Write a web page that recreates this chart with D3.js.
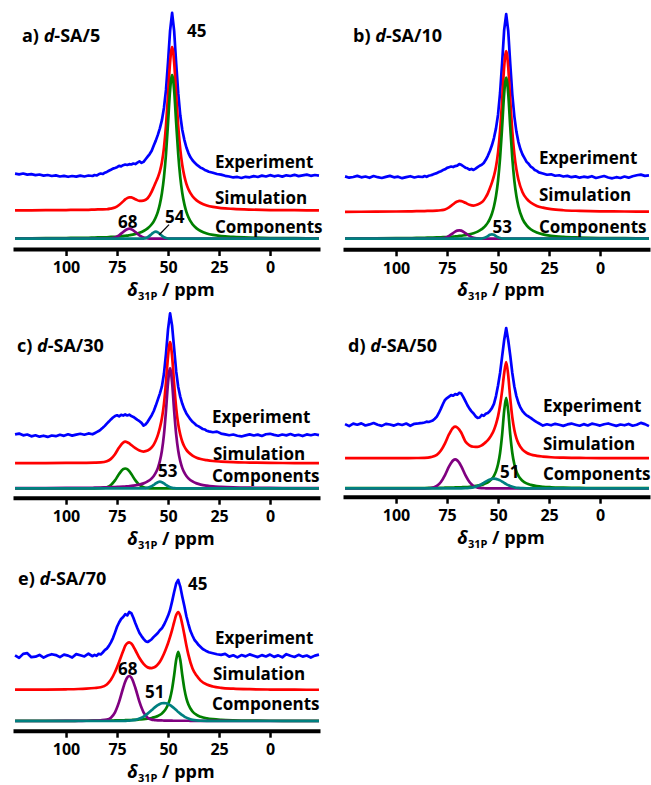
<!DOCTYPE html>
<html><head><meta charset="utf-8">
<script src="https://cdn.jsdelivr.net/npm/d3@7"></script>
<style>
body{margin:0;background:#fff}
svg{display:block}
text{font-family:'Open Sans',sans-serif;font-weight:700;fill:#000}
</style>
</head><body>
<svg id="chart" width="651" height="785"></svg>
<script>
// ---------------- DATA ----------------
const tickValues = [100, 75, 50, 25, 0];
const seriesNames = ['Experiment', 'Simulation', 'Components'];
const panelLetters = ['a)', 'b)', 'c)', 'd)', 'e)'];
const panelSamples = ['-SA/5', '-SA/10', '-SA/30', '-SA/50', '-SA/70'];

// chemical shift grid of the smooth (fitted) curves, ppm
const ppmSmooth = [125,110,100,94,90,86,83,80,78,76,74,72,71,70,69,68,66,64,62,60,
  58,57,56,55,54,53,52,51,50,49,48,47,46,45,44,43,42,41,40,38,36,34,31,28,24,18,10,0,-12,-24];
// chemical shift grid of the experimental spectra, ppm
const ppmExp = [125,123,121,119,117,115,113,111,109,107,105,103,101,99,97,95,93,91,89,87,
  86,85,84,83,82,81,80,79,78,77,76,75,74,73,72,71,70,69,68,67,66,65,64,63,62,61,60,59,58,57,
  56,55,54,53,52,51,50,49,48,47,46,45,44,43,42,41,40,39,38,37,36,35,34,33,32,31,30,
  28,26,24,22,20,18,16,14,12,10,8,6,4,2,0,-2,-4,-6,-8,-10,-12,-14,-16,-18,-20,-22,-24];

// ---- a) d-SA/5 ----
const aExp = [0.8,0.4,0.9,0.2,0.5,-0.1,0.3,-0.4,0.0,-0.6,-0.2,-0.9,-0.5,-1.1,-0.6,-1.0,-0.4,-0.9,-0.3,-0.6,
  0.0,-0.3,0.4,0.9,0.6,1.4,1.9,2.6,3.2,3.9, 4.3,4.8,5.6,5.3,6.0,6.4,6.1,6.6,6.4,7.0,
  6.7,7.6,8.3,7.4,8.0,9.6,11.2,12.8,14.8,18.0, 21.0,24.5,28.5,33.5,41.0,52.0,69.0,88.0,99.0,88.0,
  68.0,50.0,36.5,27.5,21.5,16.8,13.4,10.8,9.0,7.6, 6.3,5.4,4.4,3.9,3.1,2.6,2.0,
  1.4,0.6,0.2,-0.5,-0.9,-1.5,-1.2,-1.8,-1.1,-1.4,-0.7,-1.2,-0.4,-0.9,-0.1,-0.8,-0.3,-1.0,-0.2,-0.6,0.1,-0.7,-0.2,0.2,-0.5,0.0,-0.4];
const aSim = [0.2,0.3,0.4,0.5,0.5,0.7,0.8,0.9, 1.3,1.9,3.5,5.7, 6.9,7.7,8.2,8.1, 7.0,6.0,6.2,7.6,
  11.7,14.5,17.4,20.3,24.0,29.6,38.4,52.0,70.7,90.6,100,90.6,70.6,51.6,37.5,27.8,21.1,16.4,13.1,
  8.8,6.3,4.7,3.2,2.3,1.6,1.1,0.7,0.4,0.3,0.2];
const aGreen = [0.2,0.3,0.4,0.5,0.5,0.7,0.8,0.9, 1.1,1.2,1.4,1.6, 1.8,1.9,2.1,2.3, 2.9,3.6,4.7,6.3,
  8.8,10.6,13.1,16.4,21.1,27.8,37.5,51.6,70.6,90.6,100,90.6,70.6,51.6,37.5,27.8,21.1,16.4,13.1,
  8.8,6.3,4.7,3.2,2.3,1.6,1.1,0.7,0.4,0.3,0.2];
const aPurple = [0,0,0,0,0,0,0,0, 0.2,0.7,2.1,4.1, 5.1,5.8,6.1,5.8, 4.1,2.1,0.7,0.2,
  0,0,0,0,0,0,0,0,0,0,0,0,0,0,0,0,0,0,0, 0,0,0,0,0,0,0,0,0,0,0];
const aTeal = [0,0,0,0,0,0,0,0, 0,0,0,0, 0,0,0,0, 0,0,0.1,0.9,
  2.9,3.9,4.3,3.9,2.9,1.8,0.9,0.4,0.1,0,0,0,0,0,0,0,0,0,0, 0,0,0,0,0,0,0,0,0,0,0];
const aPeaks = ['45', '68', '54'];

// ---- b) d-SA/10 ----
const bExp = [0.2,-0.6,-0.2,0.5,-0.4,0.1,-0.7,0.4,-0.3,-0.8,-0.1,0.5,-0.4,0.0,-0.9,-0.3,0.3,-0.5,0.1,-0.2,
  0.4,-0.1,0.6,0.9,1.3,1.8,2.2,2.9,3.4,4.1, 4.6,5.5,5.9,6.3,6.0,6.6,6.9,7.8,7.4,6.5,
  5.6,5.2,4.4,4.8,4.2,5.0,5.9,6.8,7.4,8.5, 10.5,13.0,16.0,19.5,24.0,30.0,38.5,52.0,70.5,91.0,
  101.0,90.5,70.0,51.0,37.5,28.0,21.5,17.0,13.8,11.5, 9.2,8.0,6.3,5.5,4.2,3.6,2.7,
  2.0,1.2,1.5,0.6,0.9,0.1,0.5,-0.3,0.2,-0.6,0.0,-0.4,0.3,-0.8,-0.2,0.4,-0.5,-1.0,-0.3,-0.8,0.1,-0.6,0.3,0.9,1.3,0.5,0.8];
const bSim = [0.1,0.2,0.3,0.4,0.5,0.6,0.7,0.8, 1.1,1.6,2.9,4.8, 5.8,6.5,6.9,6.8, 5.7,4.5,4.0,4.6,
  6.0,7.3,9.2,11.6,14.7,18.2,22.4,28.1,36.9,50.4,69.3,90.0,100,90.0,69.2,50.0,36.0,26.5,20.0,
  12.3,8.3,5.9,3.8,2.7,1.8,1.1,0.7,0.4,0.3,0.2];
const bGreen = [0.1,0.2,0.3,0.4,0.5,0.6,0.7,0.8, 0.9,1.0,1.1,1.3, 1.4,1.5,1.7,1.8, 2.2,2.7,3.4,4.4,
  5.9,6.9,8.3,10.0,12.3,15.5,20.0,26.5,36.0,50.0,69.2,90.0,100,90.0,69.2,50.0,36.0,26.5,20.0,
  12.3,8.3,5.9,3.8,2.7,1.8,1.1,0.7,0.4,0.3,0.2];
const bPurple = [0,0,0,0,0,0,0,0, 0.2,0.6,1.8,3.5, 4.4,5.0,5.2,5.0, 3.5,1.8,0.6,0.2,
  0,0,0,0,0,0,0,0,0,0,0,0,0,0,0,0,0,0,0, 0,0,0,0,0,0,0,0,0,0,0];
const bTeal = [0,0,0,0,0,0,0,0, 0,0,0,0, 0,0,0,0, 0,0,0,0,
  0.1,0.4,0.9,1.6,2.4,2.7,2.4,1.6,0.9,0.4,0.1,0,0,0,0,0,0,0,0, 0,0,0,0,0,0,0,0,0,0,0];
const bPeaks = ['53'];

// ---- c) d-SA/30 ----
const cExp = [0.5,1.2,-0.3,0.4,-1.1,-0.2,-1.4,-0.6,-1.6,-0.4,-1.0,0.2,-0.7,0.6,-0.5,0.3,1.0,0.2,1.3,0.6,
  1.5,2.4,3.3,4.5,6.0,7.6,9.5,11.2,13.0,14.6, 15.8,16.4,15.6,16.8,16.2,17.1,16.3,16.9,15.8,15.1,
  13.9,12.6,11.5,10.1,7.8,8.9,11.0,13.8,16.5,20.0, 24.5,29.5,34.5,40.5,51.0,67.5,88.0,101.4,91.0,72.0,
  53.0,40.0,32.0,26.0,21.5,18.0,15.5,13.0,11.0,9.6, 8.0,7.2,6.1,5.0,4.6,3.5,3.0,
  2.3,2.8,1.2,0.5,-0.2,0.4,-0.6,-1.2,-0.3,0.5,-0.4,0.3,-0.8,0.6,1.0,0.1,-0.6,0.4,-0.3,0.8,-0.5,0.2,-0.9,0.5,-0.2,0.6,-0.1];
const cSim = [0.1,0.2,0.3,0.4,0.4,0.5,0.7,1.7, 3.7,7.6,13.1,17.3, 18.0,17.6,16.6,15.2, 12.6,10.6,9.8,10.6,
  13.2,15.6,19.0,23.5,29.5,37.5,49.5,67.5,89.0,101,89.0,66.0,46.0,32.5,24.0,18.0,14.0,11.2,9.2,
  6.4,4.7,3.6,2.6,1.9,1.4,0.9,0.6,0.3,0.2,0.1];
const cGreen = [0,0,0,0,0,0,0.1,0.9, 2.8,6.6,11.9,15.9, 16.5,15.9,14.3,11.9, 6.6,2.8,0.9,0.2,
  0,0,0,0,0,0,0,0,0,0,0,0,0,0,0,0,0,0,0, 0,0,0,0,0,0,0,0,0,0,0];
const cPurple = [0.1,0.2,0.3,0.4,0.4,0.5,0.6,0.8, 0.9,1.0,1.2,1.4, 1.5,1.6,1.8,2.0, 2.5,3.1,4.1,5.7,
  8.3,10.2,13.0,16.8,22.6,31.3,44.7,64.6,87.9,100,87.9,64.6,44.7,31.3,22.6,16.8,13.0,10.2,8.3,
  5.7,4.1,3.1,2.2,1.6,1.2,0.8,0.5,0.3,0.2,0.1];
const cTeal = [0,0,0,0,0,0,0,0, 0,0,0,0, 0,0,0,0, 0,0,0,0.4,
  1.7,2.8,4.1,5.1,5.5,5.1,4.1,2.8,1.7,0.9,0.4,0.1,0,0,0,0,0,0,0, 0,0,0,0,0,0,0,0,0,0,0];
const cPeaks = ['53'];

// ---- d) d-SA/50 ----
const dExp = [0.9,-1.2,1.4,0.3,1.7,-0.5,0.6,2.0,0.2,-0.9,1.2,0.5,-0.6,1.1,0.0,1.5,-0.8,1.2,1.6,2.2,
  2.6,3.5,3.1,3.8,4.6,6.5,8.7,12.5,17.0,21.8, 26.0,28.0,29.5,31.0,30.4,32.0,31.5,33.4,32.6,29.0,
  24.8,20.5,17.0,14.2,12.0,9.0,7.4,7.8,10.4,9.5, 11.6,12.5,14.5,17.5,22.0,30.0,41.0,54.0,71.0,88.0,
  100.7,88.0,72.0,54.0,40.0,30.0,23.0,18.0,14.5,12.0, 10.0,8.8,7.4,5.8,4.4,3.0,1.8,
  -0.6,0.8,-0.3,1.2,0.2,-0.9,0.6,1.5,0.3,-0.8,0.9,-0.5,1.4,0.5,-0.6,0.8,1.6,0.3,-0.9,0.5,-0.3,1.1,-0.8,0.2,2.2,0.9,-1.2];
const dSim = [0.1,0.1,0.2,0.2,0.3,0.5,1.2,3.5, 8.0,15.5,25.0,31.8, 32.8,32.0,29.8,26.5, 17.5,13.5,12.0,11.8,
  13.5,15.0,16.8,18.8,21.5,25.0,29.5,35.5,43.5,55.0,70.0,88.0,100,86.0,62.0,42.5,29.5,21.0,15.5,
  9.0,5.8,4.0,2.6,1.8,1.1,0.7,0.4,0.2,0.2,0.1];
const dGreen = [0.1,0.1,0.2,0.2,0.3,0.3,0.4,0.5, 0.5,0.6,0.7,0.8, 0.9,0.9,1.0,1.1, 1.3,1.6,2.1,2.7,
  3.6,4.3,5.1,6.2,7.8,9.9,13.0,17.6,24.9,36.7,55.5,80.1,94,80.1,55.5,36.7,24.9,17.6,13.0,
  7.8,5.1,3.6,2.3,1.6,1.1,0.7,0.4,0.2,0.2,0.1];
const dPurple = [0,0,0,0,0,0,0.3,2.4, 6.5,13.7,22.7,29.0, 30.0,29.0,26.5,22.7, 13.7,6.5,2.4,0.7,
  0.2,0.1,0,0,0,0,0,0,0,0,0,0,0,0,0,0,0,0,0, 0,0,0,0,0,0,0,0,0,0,0];
const dTeal = [0,0,0,0,0,0,0,0, 0,0,0,0, 0,0,0,0, 0.1,0.4,1.0,2.3,
  4.4,5.7,7.0,8.2,9.1,9.8,10,9.8,9.1,8.2,7.0,5.7,4.4,3.3,2.3,1.6,1.0,0.6,0.4, 0.1,0,0,0,0,0,0,0,0,0,0];
const dPeaks = ['51'];

// ---- e) d-SA/70 ----
const eExp = [0.8,-2.4,2.7,3.6,-1.5,-0.9,1.4,-2.1,0.6,2.3,1.2,-1.4,1.7,0.5,-2.0,2.4,0.9,-0.6,2.9,-0.3,
  1.4,0.3,2.8,2.0,4.5,7.5,9.5,13.0,17.5,23.0, 30.0,37.5,43.0,47.5,50.0,53.5,52.0,56.4,55.0,49.0,
  42.0,35.5,29.5,25.5,22.0,19.0,18.0,19.5,21.5,24.5, 27.0,29.5,33.0,35.5,40.0,45.5,51.5,59.0,70.0,82.0,
  93.0,97.4,89.0,76.0,64.0,51.0,41.0,32.0,26.0,20.5, 17.5,14.0,11.5,9.0,7.5,6.0,4.8,
  3.5,2.2,1.5,2.7,-0.8,0.9,-1.8,1.2,-0.5,2.1,0.3,-1.4,1.1,-0.6,1.8,-1.1,0.8,-1.7,2.4,0.3,-1.2,1.5,-0.8,0.6,-2.0,0.5,1.8];
const eSim = [0.4,0.6,0.9,1.3,1.8,2.6,3.5,7.0, 13.0,23.0,36.0,50.0, 56.5,60.0,61.0,59.5, 51.0,41.0,33.5,29.0,
  28.0,28.8,30.3,32.8,36.3,41.0,46.5,53.0,60.0,68.0,77.0,87.0,96.0,100,95.0,84.0,71.0,57.0,45.0,
  27.5,18.5,12.0,7.0,4.5,2.8,1.7,1.0,0.6,0.4,0.3];
const eGreen = [0.1,0.2,0.2,0.3,0.3,0.4,0.5,0.6, 0.6,0.7,0.8,0.9, 1.0,1.1,1.2,1.3, 1.5,1.9,2.3,3.0,
  3.9,4.6,5.4,6.4,7.8,9.7,12.2,15.8,21.1,29.1,41.2,58.6,78.5,88.5,78.5,58.6,41.2,29.1,21.1,
  12.2,7.8,5.4,3.4,2.3,1.5,0.9,0.6,0.3,0.2,0.15];
const ePurple = [0,0,0.1,0.2,0.3,0.5,0.9,1.8, 4.3,11.2,24.5,42.3, 50.2,55.7,57.7,55.7, 42.3,24.5,11.2,4.3,
  1.8,1.4,1.1,0.9,0.8,0.7,0.6,0.5,0.5,0.4,0.4,0.3,0.3,0.3,0.3,0.3,0.3,0.3,0.3,
  0.2,0.2,0.2,0.1,0.1,0.1,0,0,0,0,0];
const eTeal = [0,0,0,0,0,0,0,0, 0,0,0,0.1, 0.2,0.3,0.45,0.7, 1.5,3.1,5.7,9.5,
  14.0,16.3,18.4,20.3,21.8,22.7,23,22.7,21.8,20.3,18.4,16.3,14.0,11.6,9.5,7.5,5.7,4.3,3.1,
  1.5,0.7,0.3,0.05,0,0,0,0,0,0,0];
const ePeaks = ['45', '68', '51'];

// ---------------- LAYOUT / STYLE ----------------
const colors = {exp:'#0000ff', sim:'#ff0000', green:'#008000', purple:'#800080', teal:'#008080'};
const lineWidth = 2.7;
const panels = [
  {exp:aExp, sim:aSim, comps:[aGreen,aPurple,aTeal], peaks:aPeaks,
   x0:0, axisY:249, base:{comp:238.7, sim:210.7, exp:175}, k:1.637,
   title:[22,42], lab:[[215,168],[215,204],[215,233]], peakPos:[[187,37],[118,228],[165,223]],
   arrow:[[49.5,8.6],[54.3,2.4]]},
  {exp:bExp, sim:bSim, comps:[bGreen,bPurple,bTeal], peaks:bPeaks,
   x0:330, axisY:249.3, base:{comp:238.7, sim:212, exp:176.7}, k:1.61,
   title:[353,42], lab:[[539,163.5],[539,201],[539,233]], peakPos:[[492.5,233]]},
  {exp:cExp, sim:cSim, comps:[cGreen,cPurple,cTeal], peaks:cPeaks,
   x0:0, axisY:497.7, base:{comp:488.3, sim:463.3, exp:435}, k:1.2,
   title:[17,351.5], lab:[[212,423],[213,460],[212,481.5]], peakPos:[[158,476.5]]},
  {exp:dExp, sim:dSim, comps:[dGreen,dPurple,dTeal], peaks:dPeaks,
   x0:330, axisY:496.7, base:{comp:488.3, sim:458.3, exp:425}, k:0.963,
   title:[348,351.5], lab:[[543,411.5],[543,450],[543,480]], peakPos:[[500,478]]},
  {exp:eExp, sim:eSim, comps:[eGreen,ePurple,eTeal], peaks:ePeaks,
   x0:0, axisY:730.7, base:{comp:721, sim:690, exp:656}, k:0.78,
   title:[18,585], lab:[[215,643.5],[213,680],[212,710]], peakPos:[[188,590],[118,675],[145,698]]}
];

// ---------------- DRAW ----------------
const svg = d3.select('#chart');
const compColors = [colors.green, colors.purple, colors.teal];

panels.forEach((p, i) => {
  if (p.exp.length !== ppmExp.length) throw new Error('exp len ' + i + ' ' + p.exp.length);
  [p.sim, ...p.comps].forEach((s, j) => { if (s.length !== ppmSmooth.length) throw new Error('smooth len ' + i + '/' + j + ' ' + s.length); });

  const g = svg.append('g');
  const x = d3.scaleLinear().domain([126, -24.5]).range([p.x0 + 13, p.x0 + 320]);
  const y = d3.scaleLinear().domain([0, 100]).range([0, -100 * p.k]);

  const mk = (base, curve) => d3.line()
    .x(d => x(d[0])).y(d => base + y(d[1])).curve(curve);

  // experiment
  g.append('path').datum(d3.zip(ppmExp, p.exp))
    .attr('d', mk(p.base.exp, d3.curveLinear))
    .attr('fill', 'none').attr('stroke', colors.exp).attr('stroke-width', lineWidth).attr('stroke-linejoin', 'round');
  // simulation
  g.append('path').datum(d3.zip(ppmSmooth, p.sim))
    .attr('d', mk(p.base.sim, d3.curveMonotoneX))
    .attr('fill', 'none').attr('stroke', colors.sim).attr('stroke-width', lineWidth);
  // components
  p.comps.forEach((c, j) => {
    g.append('path').datum(d3.zip(ppmSmooth, c))
      .attr('d', mk(p.base.comp, d3.curveMonotoneX))
      .attr('fill', 'none').attr('stroke', compColors[j]).attr('stroke-width', lineWidth);
  });

  // axis
  const ax = g.append('g').attr('transform', `translate(0,${p.axisY})`)
    .call(d3.axisBottom(x).tickValues(tickValues).tickSize(7).tickSizeOuter(0).tickPadding(6));
  ax.select('.domain').attr('stroke', '#000').attr('stroke-width', 4);
  ax.selectAll('.tick line').attr('stroke', '#000').attr('stroke-width', 2.5);
  ax.selectAll('.tick text').attr('font-size', 16).attr('font-family', "'Open Sans',sans-serif").attr('font-weight', 700).attr('fill', '#000');

  // axis title
  const at = g.append('text').attr('x', p.x0 + 171).attr('y', p.axisY + 47).attr('text-anchor', 'middle').attr('font-size', 18);
  at.append('tspan').attr('font-style', 'italic').text('δ');
  at.append('tspan').attr('font-size', 11).attr('dy', 4).text('31P');
  at.append('tspan').attr('dy', -4).text(' / ppm');

  // panel title
  const t = g.append('text').attr('x', p.title[0]).attr('y', p.title[1]).attr('font-size', 18);
  t.append('tspan').text(panelLetters[i] + ' ');
  t.append('tspan').attr('font-style', 'italic').text('d');
  t.append('tspan').text(panelSamples[i]);

  // series labels
  seriesNames.forEach((n, j) => {
    g.append('text').attr('x', p.lab[j][0]).attr('y', p.lab[j][1]).attr('font-size', 17).text(n);
  });

  // peak labels
  p.peaks.forEach((n, j) => {
    g.append('text').attr('x', p.peakPos[j][0]).attr('y', p.peakPos[j][1]).attr('font-size', 17).text(n);
  });

  if (p.arrow) {
    g.append('line')
      .attr('x1', x(p.arrow[0][0])).attr('y1', p.base.comp + y(p.arrow[0][1]))
      .attr('x2', x(p.arrow[1][0])).attr('y2', p.base.comp + y(p.arrow[1][1]))
      .attr('stroke', '#000').attr('stroke-width', 1.2);
  }
});
</script>
</body></html>
